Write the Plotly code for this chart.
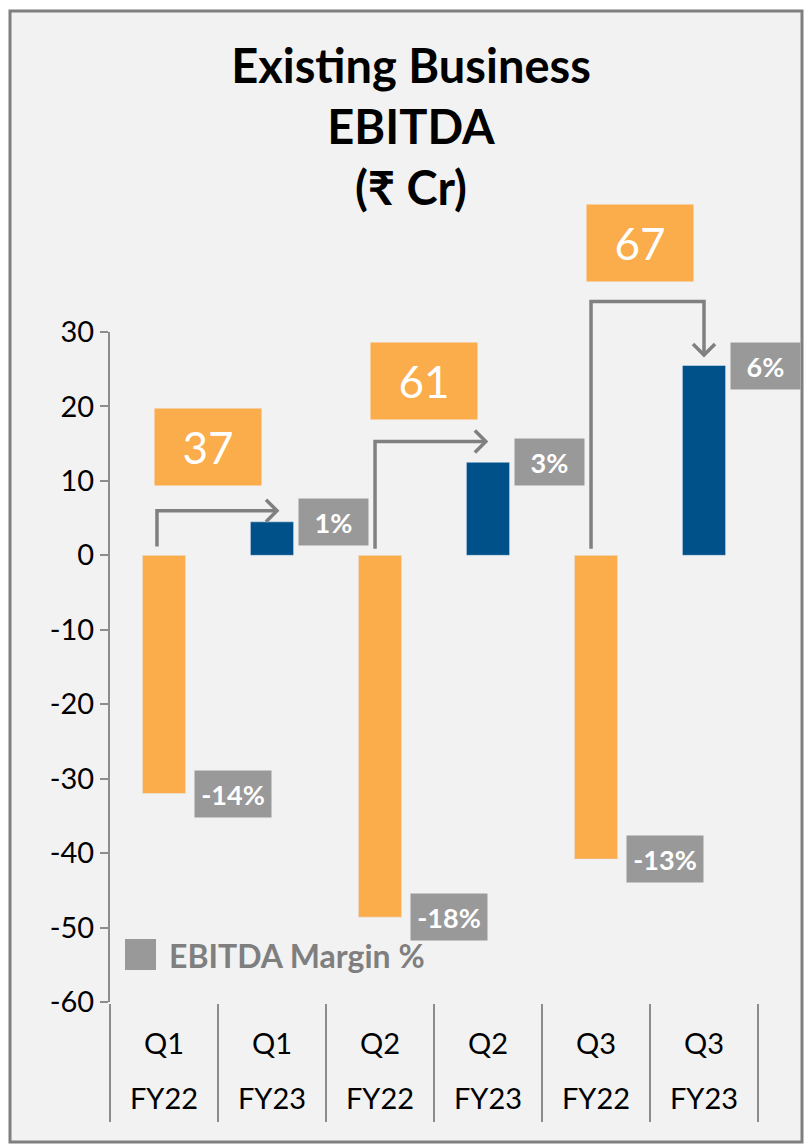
import plotly.graph_objects as go

# chart data
categories = ["Q1 FY22", "Q1 FY23", "Q2 FY22", "Q2 FY23", "Q3 FY22", "Q3 FY23"]
quarter_labels = ["Q1", "Q1", "Q2", "Q2", "Q3", "Q3"]
year_labels = ["FY22", "FY23", "FY22", "FY23", "FY22", "FY23"]
ebitda = [-32, 4.5, -48.6, 12.5, -40.8, 25.5]
margin_labels = ["-14%", "1%", "-18%", "3%", "-13%", "6%"]
growth_labels = ["37", "61", "67"]
y_ticks = [-60, -50, -40, -30, -20, -10, 0, 10, 20, 30]

ORANGE = "#FBAC4B"
BLUE = "#00518A"
GREY_BOX = "#999999"
ARROW = "#808080"
AXIS = "#8C8C8C"
FONT = "Lato, DejaVu Sans, sans-serif"

W, H = 806, 1146
YMIN, YMAX = -60, 30


def px_x(p):
    return p / W


def px_y(p):
    return 1 - p / H


# plot area in pixels
xdom = [px_x(110), px_x(758)]
ydom = [px_y(1002), px_y(332)]


def y2paper(v):
    return ydom[0] + (v - YMIN) / (YMAX - YMIN) * (ydom[1] - ydom[0])


bar_colors = [ORANGE if v < 0 else BLUE for v in ebitda]

fig = go.Figure()
fig.add_trace(go.Bar(x=categories, y=ebitda, marker_color=bar_colors,
                     width=0.4, showlegend=False, hoverinfo="x+y"))

# margin % boxes next to each bar end
for i, (v, lab) in enumerate(zip(ebitda, margin_labels)):
    fig.add_annotation(x=categories[i], y=v, xref="x", yref="y", text="<b>%s</b>" % lab,
                       showarrow=False, xanchor="center", yanchor="middle",
                       xshift=69 if v < 0 else 61, bgcolor=GREY_BOX,
                       width=70 if v < 0 else 63, height=40, borderpad=3,
                       font=dict(family=FONT, size=27, color="white"))

# growth arrows FY22 -> FY23 (x in category index units, y in data units)
arrow_specs = [
    # x_start, y_bottom, y_level, x_end, tip_y (None = horizontal arrow)
    (-0.065, 1.2, 6.0, 1.046, None),
    (1.954, 0.9, 15.3, 2.98, None),
    (3.954, 0.9, 34.1, 5.0, 26.9),
]
growth_box_y = [14.5, 23.4, 42.0]
for k, (xs, yb, yl, xe, tip) in enumerate(arrow_specs):
    if tip is None:
        pts = [(xs, yb), (xs, yl), (xe, yl)]
        ax, ay = xe, yl
        head = "M -11,11 L 0,0 L -11,-11"
    else:
        pts = [(xs, yb), (xs, yl), (xe, yl), (xe, tip)]
        ax, ay = xe, tip
        head = "M -11,11 L 0,0 L 11,11"
    path = "M " + " L ".join("%f,%f" % (x, y2paper(y)) for x, y in pts)
    fig.add_shape(type="path", path=path, xref="x3", yref="paper",
                  line=dict(color=ARROW, width=3.5))
    fig.add_shape(type="path", path=head, xref="x3", yref="paper",
                  xsizemode="pixel", ysizemode="pixel", xanchor=ax, yanchor=y2paper(ay),
                  line=dict(color=ARROW, width=3.5))
    fig.add_annotation(x=2 * k + 0.5, y=y2paper(growth_box_y[k]), xref="x3", yref="paper",
                       text=growth_labels[k], showarrow=False, xshift=-10,
                       xanchor="center", yanchor="middle",
                       bgcolor=ORANGE, width=100, height=70, borderpad=3,
                       font=dict(family=FONT, size=44, color="white"))

# legend square + text
fig.add_shape(type="rect", xref="paper", yref="paper",
              x0=px_x(125), x1=px_x(156), y0=px_y(970), y1=px_y(939),
              fillcolor=GREY_BOX, line_width=0)
fig.add_annotation(x=px_x(167), y=px_y(955), xref="paper", yref="paper",
                   xanchor="left", yanchor="middle", showarrow=False,
                   text="<b>EBITDA Margin %</b>",
                   font=dict(family=FONT, size=32, color="#7F7F7F"))

# outer frame
fig.add_shape(type="rect", xref="paper", yref="paper", layer="below",
              x0=px_x(10), x1=px_x(802), y0=px_y(1142), y1=px_y(11),
              fillcolor="#F2F2F2", line=dict(color="#7F7F7F", width=3))

tick_font = dict(family=FONT, size=29, color="black")
fig.update_layout(
    width=W, height=H,
    margin=dict(l=0, r=0, t=0, b=0, autoexpand=False),
    paper_bgcolor="white", plot_bgcolor="rgba(0,0,0,0)",
    title=dict(text="<b>Existing Business<br>EBITDA<br>(₹ Cr)</b>",
               x=px_x(411), xanchor="center", y=px_y(83), yanchor="top",
               automargin=False,
               font=dict(family=FONT, size=47, color="black")),
    xaxis=dict(domain=xdom, type="category", categoryarray=categories,
               range=[-0.5, 5.5], showline=False, ticks="", showgrid=False,
               zeroline=False, tickvals=categories, ticktext=quarter_labels,
               tickfont=tick_font, ticklabelstandoff=22, automargin=False),
    # year labels + category separators below the plot
    xaxis3=dict(domain=xdom, overlaying="x", anchor="free", position=px_y(1122),
                range=[-0.5, 5.5], showline=False, ticks="", showgrid=False,
                zeroline=False, tickvals=list(range(6)), ticktext=year_labels,
                ticklabelposition="inside", ticklabelstandoff=4, tickfont=tick_font,
                minor=dict(tickvals=[i - 0.5 for i in range(7)], ticks="inside",
                           ticklen=118, tickwidth=2, tickcolor=AXIS, showgrid=False),
                automargin=False),
    # zero line with ticks
    xaxis4=dict(domain=xdom, overlaying="x", anchor="free", position=y2paper(0),
                range=[-0.5, 5.5], showline=True, linecolor=AXIS, linewidth=2,
                ticks="outside", ticklen=10, tickwidth=2, tickcolor=AXIS,
                showgrid=False, zeroline=False,
                tickvals=[i + 0.5 for i in range(6)], showticklabels=False,
                automargin=False),
    yaxis=dict(domain=ydom, range=[YMIN, YMAX], tickvals=y_ticks,
               ticktext=[str(v) for v in y_ticks], showline=True,
               linecolor=AXIS, linewidth=2, ticks="outside", ticklen=8,
               tickwidth=2, tickcolor=AXIS, showgrid=False, zeroline=False,
               tickfont=tick_font, automargin=False),
)

# drop the default page margin so the figure fills the window exactly
fig.write_html("out.html", config={"displayModeBar": False},
               post_script="document.body.style.margin='0';"
               "document.body.style.overflow='hidden';")
